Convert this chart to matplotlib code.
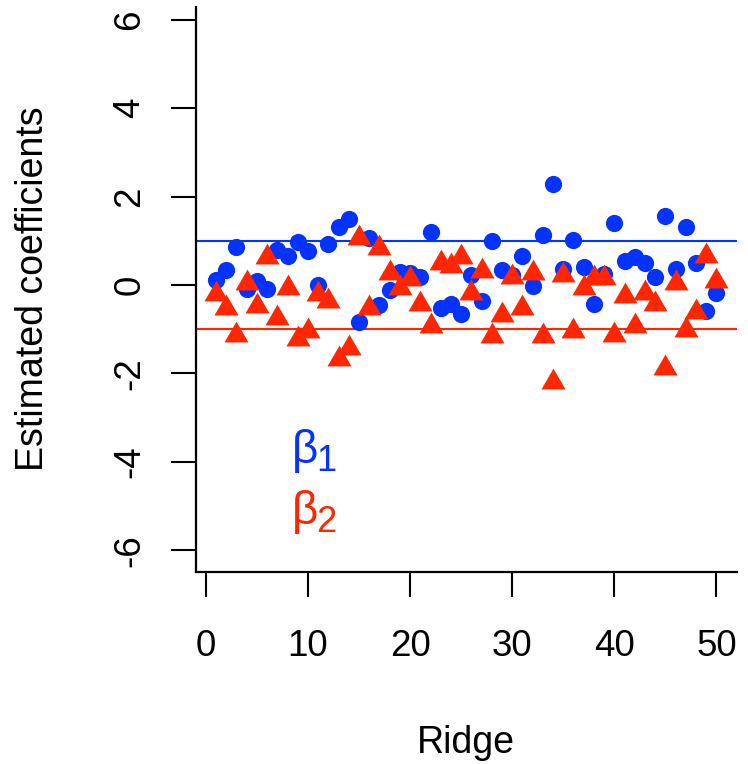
import numpy as np
import matplotlib.pyplot as plt
from matplotlib.path import Path

plt.rcParams['font.family'] = ['Liberation Sans', 'DejaVu Sans']

# Ridge estimates for 50 replicates
replicate = np.arange(1, 51)
beta1 = [0.12, 0.33, 0.86, -0.08, 0.10, -0.09, 0.79, 0.65, 0.97, 0.77,
         -0.01, 0.92, 1.30, 1.50, -0.84, 1.07, -0.46, -0.12, 0.30, 0.26,
         0.18, 1.20, -0.53, -0.42, -0.65, 0.22, -0.36, 1.00, 0.33, 0.22,
         0.65, -0.03, 1.13, 2.28, 0.37, 1.01, 0.41, -0.42, 0.24, 1.39,
         0.54, 0.64, 0.49, 0.17, 1.56, 0.37, 1.31, 0.50, -0.58, -0.17]
beta2 = [-0.21, -0.52, -1.12, 0.05, -0.48, 0.63, -0.74, -0.06, -1.23, -1.04,
         -0.21, -0.36, -1.68, -1.42, 1.07, -0.52, 0.84, 0.28, -0.06, 0.13,
         -0.44, -0.93, 0.50, 0.43, 0.63, -0.18, 0.31, -1.16, -0.67, 0.18,
         -0.52, 0.28, -1.16, -2.19, 0.22, -1.04, -0.06, 0.15, 0.15, -1.12,
         -0.25, -0.93, -0.18, -0.44, -1.87, 0.05, -1.01, -0.60, 0.65, 0.09]
true_beta = [1, -1]

blue = '#0433FF'
red = '#FF2600'

# R style filled triangle, centroid on the point
tri = Path([(-1, -0.577), (1, -0.577), (0, 1.155), (-1, -0.577)],
           [Path.MOVETO, Path.LINETO, Path.LINETO, Path.CLOSEPOLY])

fig = plt.figure(figsize=(7.48, 7.64), dpi=100)
ax = fig.add_axes([196 / 748, 1 - 571.7 / 764, 540.5 / 748, 565 / 764])

ax.axhline(true_beta[0], color=blue, lw=1.5, zorder=1)
ax.axhline(true_beta[1], color=red, lw=1.5, zorder=1)

ax.plot(replicate, beta1, 'o', color=blue, ms=12.4, mec='none', zorder=2)
ax.plot(replicate, beta2, marker=tri, ls='none', color=red, ms=20,
        mec='none', zorder=3)

ax.set_xlim(-0.96, 51.96)
ax.set_ylim(-6.48, 6.29)
ax.set_xticks(range(0, 51, 10))
ax.set_yticks(range(-6, 7, 2))
ax.set_yticklabels([str(v) for v in range(-6, 7, 2)], rotation=90, va='center')

for s in ['top', 'right']:
    ax.spines[s].set_visible(False)
for s in ['left', 'bottom']:
    ax.spines[s].set_linewidth(1.6)
ax.tick_params(direction='out', length=18, width=1.5, labelsize=26.5)
ax.tick_params(axis='x', pad=23)
ax.tick_params(axis='y', pad=17)

# legend-like labels
ax.text(8.4, -4.02, 'β', color=blue, fontsize=33, va='baseline')
ax.text(10.85, -4.2, '1', color=blue, fontsize=26, va='baseline')
ax.text(8.4, -5.4, 'β', color=red, fontsize=33, va='baseline')
ax.text(10.85, -5.58, '2', color=red, fontsize=26, va='baseline')

fig.text(466 / 748, 1 - 752.7 / 764, 'Ridge', fontsize=27, ha='center',
         va='baseline')
fig.text(43.3 / 748, 1 - 289 / 764, 'Estimated coefficients', fontsize=27,
         rotation=90, rotation_mode='anchor', ha='center', va='baseline')

plt.savefig('out.png', dpi=100)
plt.close()
